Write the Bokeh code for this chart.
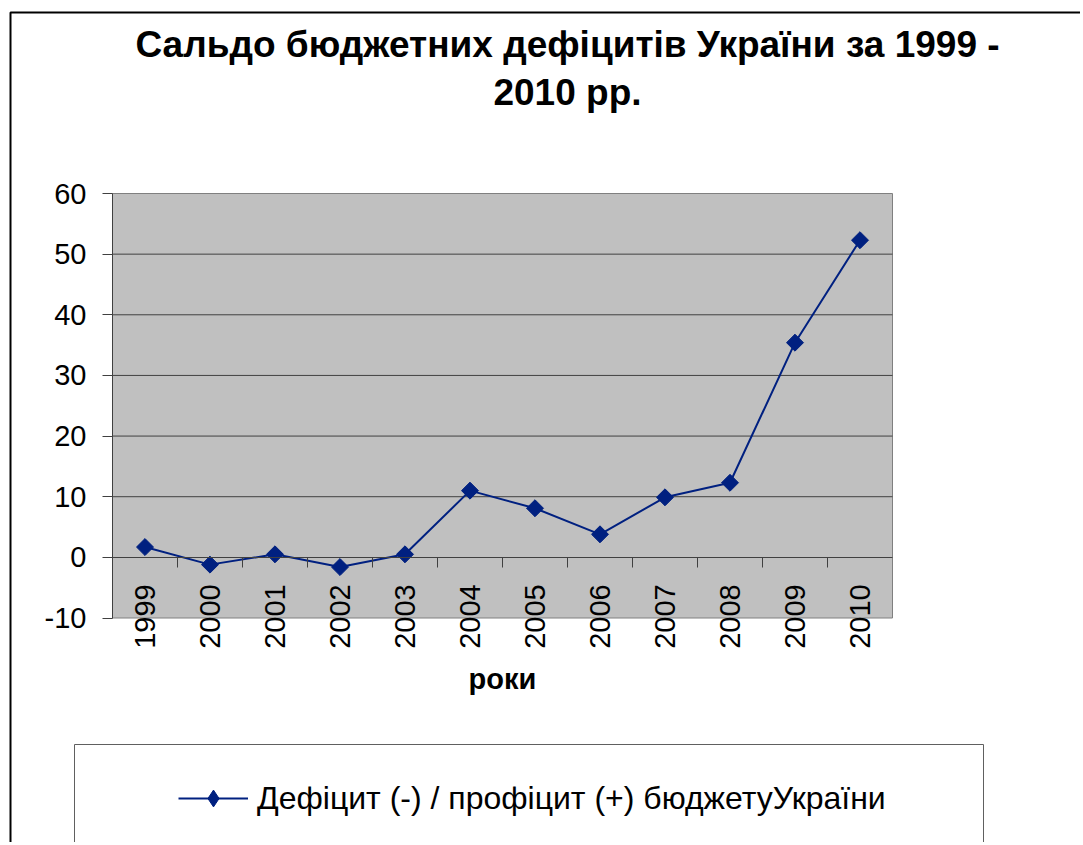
import math
from bokeh.plotting import figure
from bokeh.models import (Range1d, FixedTicker, Label, BoxAnnotation, Legend, LegendItem,
                          LinearAxis)
from bokeh.embed import file_html
from bokeh.resources import INLINE

# ---- data ----
years = ["1999", "2000", "2001", "2002", "2003", "2004",
         "2005", "2006", "2007", "2008", "2009", "2010"]
balance = [1.7, -1.2, 0.5, -1.6, 0.5, 11.0, 8.1, 3.8, 9.9, 12.3, 35.4, 52.3]
y_ticks = [-10, 0, 10, 20, 30, 40, 50, 60]
title_lines = ["Сальдо бюджетних дефіцитів України за 1999 -", "2010 рр."]
x_title = "роки"
series_name = "Дефіцит (-) / профіцит (+) бюджетуУкраїни"

FONT = "Liberation Sans"
NAVY = "#002080"
GRID = "#404040"

W, H = 1080, 842
FL, FR, FT, FB = 112, 892, 193, 617.5   # plot-area edges in canvas pixels

idx = list(range(len(years)))
X0, X1 = -0.5, len(years) - 0.5
Y0, Y1 = y_ticks[0], y_ticks[-1]


def px_x(px):
    return X0 + (px - FL) * (X1 - X0) / (FR - FL)


def px_y(py):
    return Y0 + (FB - py) * (Y1 - Y0) / (FB - FT)


# the frame covers the whole canvas; the plot area is drawn inside it
p = figure(width=W, height=H, output_backend="svg", toolbar_location=None,
           x_range=Range1d(px_x(0), px_x(W)), y_range=Range1d(px_y(H), px_y(0)),
           x_axis_location=None, y_axis_location=None,
           min_border=0, min_border_left=0, min_border_right=0,
           min_border_top=0, min_border_bottom=0)
p.background_fill_color = "white"
p.border_fill_color = "white"
p.outline_line_color = None
p.xgrid.visible = False
p.ygrid.visible = False

# plot area
p.add_layout(BoxAnnotation(left=X0, right=X1, bottom=Y0, top=Y1, level="underlay",
                           fill_color="#C0C0C0", fill_alpha=1,
                           line_color="#808080", line_width=1, line_alpha=1))

# horizontal gridlines
grid_vals = [t for t in y_ticks if t not in (Y0, 0, Y1)]
p.segment(x0=[X0] * len(grid_vals), x1=[X1] * len(grid_vals), y0=grid_vals, y1=grid_vals,
          line_color=GRID, line_width=1)

# y axis
yax = LinearAxis(fixed_location=X0, bounds=(Y0, Y1), ticker=FixedTicker(ticks=y_ticks))
yax.major_label_overrides = {t: str(t) for t in y_ticks}
yax.major_label_text_font = FONT
yax.major_label_text_font_size = "29px"
yax.major_label_text_color = "black"
yax.major_tick_in = 0
yax.major_tick_out = 10
yax.major_tick_line_color = GRID
yax.minor_tick_line_color = None
yax.axis_line_color = GRID
yax.major_label_standoff = 16
p.add_layout(yax, "left")

# x axis on the zero line, category ticks between categories
xax = LinearAxis(fixed_location=0, bounds=(X0, X1),
                 ticker=FixedTicker(ticks=idx, minor_ticks=[i + 0.5 for i in idx[:-1]]))
xax.major_label_overrides = {i: y for i, y in zip(idx, years)}
xax.major_label_orientation = math.pi / 2
xax.major_label_text_font = FONT
xax.major_label_text_font_size = "29px"
xax.major_label_text_color = "black"
xax.major_tick_line_color = None
xax.major_tick_in = 0
xax.major_tick_out = 0
xax.minor_tick_in = 0
xax.minor_tick_out = 10
xax.minor_tick_line_color = GRID
xax.axis_line_color = GRID
xax.major_label_standoff = 17
xax.axis_label = x_title
xax.axis_label_text_font = FONT
xax.axis_label_text_font_style = "bold"
xax.axis_label_text_font_size = "29px"
xax.axis_label_text_color = "black"
xax.axis_label_standoff = 11
p.add_layout(xax, "below")

# series
r_line = p.line(idx, balance, line_color=NAVY, line_width=2)
# diamond key (used by the legend), hidden beneath the plotted markers
r_key = p.scatter(idx, balance, marker="diamond", size=14, fill_color=NAVY, line_color=NAVY)
r_pts = p.scatter(idx, balance, marker="square", angle=math.pi / 4, size=12,
                  fill_color=NAVY, line_color=NAVY)

# title
for i, t in enumerate(title_lines):
    p.add_layout(Label(x=px_x(567), y=px_y(44 + i * 48), text=t,
                       text_align="center", text_baseline="middle",
                       text_font=FONT, text_font_style="bold", text_font_size="37px",
                       text_color="black"))

# outer chart border
p.add_layout(BoxAnnotation(left=px_x(10), top=px_y(12), right=px_x(1400), bottom=px_y(1400),
                           fill_alpha=0, line_color="black", line_width=2, line_alpha=1))

# legend box
p.add_layout(BoxAnnotation(left=px_x(74), top=px_y(744), right=px_x(983), bottom=px_y(1400),
                           fill_alpha=0, line_color="#606060", line_width=1, line_alpha=1))

legend = Legend(items=[LegendItem(label=series_name, renderers=[r_line, r_key])],
                location=(178, H - 819), orientation="horizontal",
                padding=0, margin=0, spacing=0, glyph_width=70, glyph_height=42,
                label_standoff=9, border_line_color=None, background_fill_alpha=0,
                label_text_font=FONT, label_text_font_size="32px", label_text_color="black")
p.add_layout(legend)

open("out.html", "w").write(file_html(p, INLINE))
